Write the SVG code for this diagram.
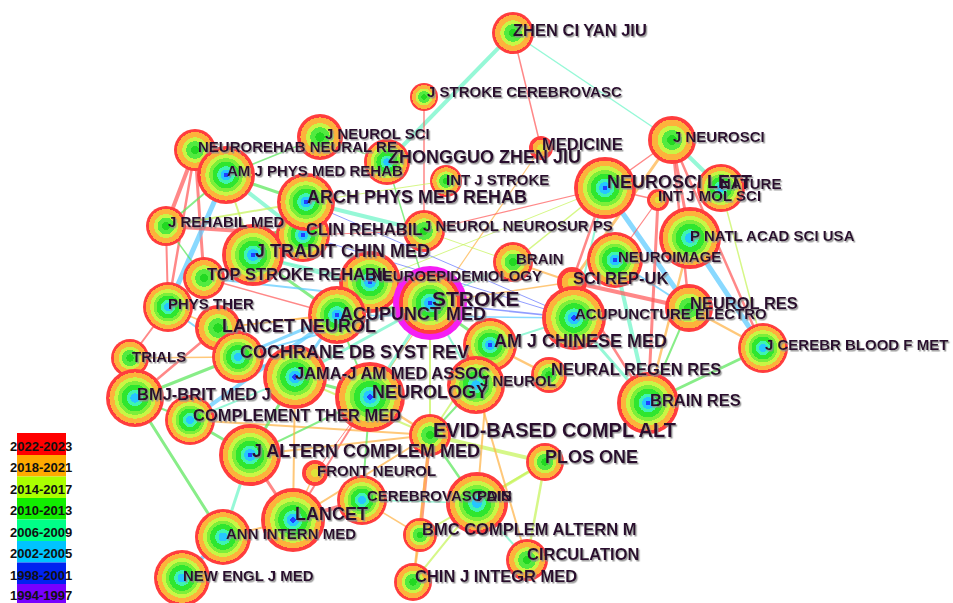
<svg xmlns="http://www.w3.org/2000/svg" width="953" height="603" viewBox="0 0 953 603">
<defs>
<radialGradient id="gBig">
<stop offset="0" stop-color="#1f3fff"/><stop offset="0.08" stop-color="#1f3fff"/>
<stop offset="0.08" stop-color="#26c6ff"/><stop offset="0.19" stop-color="#26c6ff"/>
<stop offset="0.19" stop-color="#3ef5b0"/><stop offset="0.3" stop-color="#3ef5b0"/>
<stop offset="0.3" stop-color="#2fe62f"/><stop offset="0.46" stop-color="#2fe62f"/>
<stop offset="0.46" stop-color="#7cef3a"/><stop offset="0.58" stop-color="#7cef3a"/>
<stop offset="0.58" stop-color="#c9f545"/><stop offset="0.71" stop-color="#c9f545"/>
<stop offset="0.71" stop-color="#fdb23c"/><stop offset="0.88" stop-color="#fdb23c"/>
<stop offset="0.88" stop-color="#ff3d3d"/><stop offset="1" stop-color="#ff3d3d"/>
</radialGradient>
<radialGradient id="gCy">
<stop offset="0" stop-color="#26c6ff"/><stop offset="0.16" stop-color="#26c6ff"/>
<stop offset="0.16" stop-color="#3ef5b0"/><stop offset="0.28" stop-color="#3ef5b0"/>
<stop offset="0.28" stop-color="#2fe62f"/><stop offset="0.46" stop-color="#2fe62f"/>
<stop offset="0.46" stop-color="#7cef3a"/><stop offset="0.58" stop-color="#7cef3a"/>
<stop offset="0.58" stop-color="#c9f545"/><stop offset="0.71" stop-color="#c9f545"/>
<stop offset="0.71" stop-color="#fdb23c"/><stop offset="0.88" stop-color="#fdb23c"/>
<stop offset="0.88" stop-color="#ff3d3d"/><stop offset="1" stop-color="#ff3d3d"/>
</radialGradient>
<radialGradient id="gMid">
<stop offset="0" stop-color="#22d822"/><stop offset="0.2" stop-color="#22d822"/>
<stop offset="0.2" stop-color="#52ea40"/><stop offset="0.42" stop-color="#52ea40"/>
<stop offset="0.42" stop-color="#c9f545"/><stop offset="0.6" stop-color="#c9f545"/>
<stop offset="0.6" stop-color="#fdb23c"/><stop offset="0.85" stop-color="#fdb23c"/>
<stop offset="0.85" stop-color="#ff3d3d"/><stop offset="1" stop-color="#ff3d3d"/>
</radialGradient>
<radialGradient id="gSmall">
<stop offset="0" stop-color="#dfe23a"/><stop offset="0.3" stop-color="#dfe23a"/>
<stop offset="0.3" stop-color="#fdb23c"/><stop offset="0.7" stop-color="#fdb23c"/>
<stop offset="0.7" stop-color="#ff3d3d"/><stop offset="1" stop-color="#ff3d3d"/>
</radialGradient>
<filter id="sh" x="-5%" y="-30%" width="110%" height="160%">
<feDropShadow dx="1.3" dy="1.5" stdDeviation="0.6" flood-color="#8a8a8a" flood-opacity="0.85"/>
</filter>
</defs>
<style>
.e{fill:none;stroke-linecap:round;stroke-opacity:0.72}
.r{stroke:#ff5a5a}.o{stroke:#ffb347}.y{stroke:#c6f45a}.g{stroke:#5ae65a}
.m{stroke:#6ef5c8}.c{stroke:#5ccbff}.b{stroke:#6677ff}.or{stroke:#ff7a45}
.lb{font-family:"Liberation Sans",Arial,Helvetica,sans-serif;font-weight:bold;fill:#2a0a2e;filter:url(#sh)}
.s15{font-size:15px}.s16{font-size:16.5px}.s18{font-size:18px}.s20{font-size:20px}.s21{font-size:21px}
.lg{font-family:"Liberation Sans",Arial,sans-serif;font-weight:bold;font-size:13px;fill:#111}
</style>
<rect width="953" height="603" fill="#ffffff"/>
<g id="connectors" class="e">
<line class="m" stroke-width="4" x1="513" y1="33" x2="387" y2="162"/>
<line class="r" stroke-width="1.5" x1="513" y1="33" x2="541" y2="148"/>
<line class="m" stroke-width="1.5" x1="513" y1="33" x2="672" y2="140"/>
<line class="r" stroke-width="1.5" x1="424" y1="97" x2="424" y2="231"/>
<line class="o" stroke-width="1.2" x1="541" y1="148" x2="370" y2="397"/>
<line class="r" stroke-width="1.5" x1="672" y1="140" x2="605" y2="188"/>
<line class="m" stroke-width="4" x1="672" y1="140" x2="721" y2="188"/>
<line class="r" stroke-width="3" x1="672" y1="140" x2="690" y2="238"/>
<line class="o" stroke-width="3" x1="672" y1="140" x2="572" y2="282"/>
<line class="r" stroke-width="2.5" x1="672" y1="140" x2="689" y2="308"/>
<line class="r" stroke-width="2.5" x1="672" y1="140" x2="763" y2="348"/>
<line class="c" stroke-width="5" x1="605" y1="188" x2="689" y2="308"/>
<line class="c" stroke-width="5" x1="690" y1="238" x2="763" y2="348"/>
<line class="y" stroke-width="1.5" x1="721" y1="188" x2="763" y2="348"/>
<line class="r" stroke-width="3" x1="658" y1="200" x2="648" y2="403"/>
<line class="m" stroke-width="4" x1="615" y1="260" x2="648" y2="403"/>
<line class="m" stroke-width="3" x1="574" y1="318" x2="648" y2="403"/>
<line class="o" stroke-width="2.5" x1="690" y1="238" x2="648" y2="403"/>
<line class="g" stroke-width="3" x1="763" y1="348" x2="648" y2="403"/>
<line class="o" stroke-width="2.5" x1="689" y1="308" x2="763" y2="348"/>
<line class="r" stroke-width="4" x1="572" y1="282" x2="689" y2="308"/>
<line class="r" stroke-width="2.5" x1="572" y1="282" x2="605" y2="188"/>
<line class="m" stroke-width="2" x1="605" y1="188" x2="574" y2="318"/>
<line class="r" stroke-width="1.5" x1="605" y1="188" x2="658" y2="200"/>
<line class="r" stroke-width="1.2" x1="605" y1="188" x2="424" y2="231"/>
<line class="y" stroke-width="1.5" x1="605" y1="188" x2="513" y2="262"/>
<line class="y" stroke-width="1" x1="605" y1="188" x2="370" y2="282"/>
<line class="r" stroke-width="1.2" x1="658" y1="200" x2="615" y2="260"/>
<line class="m" stroke-width="2" x1="615" y1="260" x2="572" y2="282"/>
<line class="c" stroke-width="2" x1="615" y1="260" x2="689" y2="308"/>
<line class="r" stroke-width="2.5" x1="572" y1="282" x2="648" y2="403"/>
<line class="g" stroke-width="2" x1="689" y1="308" x2="648" y2="403"/>
<line class="o" stroke-width="2" x1="513" y1="262" x2="572" y2="282"/>
<line class="o" stroke-width="1.5" x1="430" y1="303" x2="572" y2="282"/>
<line class="b" stroke-width="1.5" x1="430" y1="303" x2="574" y2="318"/>
<line class="b" stroke-width="1" x1="303" y1="235" x2="574" y2="318"/>
<line class="b" stroke-width="1" x1="306" y1="202" x2="574" y2="318"/>
<line class="c" stroke-width="1.5" x1="337" y1="315" x2="574" y2="318"/>
<line class="m" stroke-width="1.2" x1="430" y1="303" x2="513" y2="262"/>
<line class="g" stroke-width="1.5" x1="387" y1="162" x2="430" y2="303"/>
<line class="r" stroke-width="4" x1="195" y1="150" x2="166" y2="226"/>
<line class="r" stroke-width="3" x1="195" y1="150" x2="204" y2="278"/>
<line class="r" stroke-width="2.5" x1="195" y1="150" x2="168" y2="307"/>
<line class="c" stroke-width="5" x1="226" y1="175" x2="168" y2="307"/>
<line class="g" stroke-width="3" x1="226" y1="175" x2="306" y2="202"/>
<line class="m" stroke-width="4" x1="226" y1="175" x2="303" y2="235"/>
<line class="g" stroke-width="2" x1="226" y1="175" x2="166" y2="226"/>
<line class="y" stroke-width="2" x1="226" y1="175" x2="253" y2="255"/>
<line class="g" stroke-width="1.5" x1="226" y1="175" x2="320" y2="137"/>
<line class="r" stroke-width="4" x1="166" y1="226" x2="303" y2="235"/>
<line class="y" stroke-width="2" x1="166" y1="226" x2="306" y2="202"/>
<line class="g" stroke-width="1.5" x1="166" y1="226" x2="204" y2="278"/>
<line class="r" stroke-width="2" x1="166" y1="226" x2="168" y2="307"/>
<line class="g" stroke-width="3" x1="306" y1="202" x2="303" y2="235"/>
<line class="m" stroke-width="4" x1="306" y1="202" x2="424" y2="231"/>
<line class="g" stroke-width="2" x1="306" y1="202" x2="253" y2="255"/>
<line class="g" stroke-width="1" x1="320" y1="137" x2="387" y2="162"/>
<line class="y" stroke-width="1" x1="306" y1="202" x2="446" y2="181"/>
<line class="r" stroke-width="1" x1="303" y1="235" x2="424" y2="231"/>
<line class="y" stroke-width="1" x1="424" y1="231" x2="513" y2="262"/>
<line class="m" stroke-width="3" x1="253" y1="255" x2="430" y2="303"/>
<line class="g" stroke-width="3" x1="253" y1="255" x2="337" y2="315"/>
<line class="m" stroke-width="2" x1="253" y1="255" x2="370" y2="282"/>
<line class="g" stroke-width="1.5" x1="204" y1="278" x2="168" y2="307"/>
<line class="r" stroke-width="1.5" x1="204" y1="278" x2="337" y2="315"/>
<line class="c" stroke-width="2" x1="204" y1="278" x2="430" y2="303"/>
<line class="o" stroke-width="1.5" x1="168" y1="307" x2="218" y2="328"/>
<line class="r" stroke-width="2" x1="168" y1="307" x2="130" y2="358"/>
<line class="c" stroke-width="2" x1="168" y1="307" x2="238" y2="357"/>
<line class="o" stroke-width="1.5" x1="218" y1="328" x2="337" y2="315"/>
<line class="g" stroke-width="2" x1="218" y1="328" x2="238" y2="357"/>
<line class="o" stroke-width="1.5" x1="218" y1="328" x2="430" y2="303"/>
<line class="r" stroke-width="2.5" x1="135" y1="398" x2="218" y2="328"/>
<line class="o" stroke-width="1.5" x1="130" y1="358" x2="238" y2="357"/>
<line class="g" stroke-width="3" x1="135" y1="398" x2="238" y2="357"/>
<line class="c" stroke-width="4" x1="190" y1="420" x2="337" y2="315"/>
<line class="g" stroke-width="3" x1="135" y1="398" x2="223" y2="537"/>
<line class="g" stroke-width="2" x1="135" y1="398" x2="190" y2="420"/>
<line class="g" stroke-width="1.5" x1="135" y1="398" x2="130" y2="358"/>
<line class="g" stroke-width="3" x1="190" y1="420" x2="250" y2="455"/>
<line class="o" stroke-width="2" x1="190" y1="420" x2="430" y2="435"/>
<line class="m" stroke-width="2" x1="190" y1="420" x2="295" y2="377"/>
<line class="c" stroke-width="3" x1="238" y1="357" x2="295" y2="377"/>
<line class="c" stroke-width="3" x1="238" y1="357" x2="337" y2="315"/>
<line class="c" stroke-width="2" x1="238" y1="357" x2="430" y2="303"/>
<line class="g" stroke-width="3" x1="295" y1="377" x2="370" y2="397"/>
<line class="m" stroke-width="3" x1="295" y1="377" x2="430" y2="303"/>
<line class="g" stroke-width="3" x1="295" y1="377" x2="250" y2="455"/>
<line class="y" stroke-width="2" x1="295" y1="377" x2="430" y2="435"/>
<line class="m" stroke-width="3" x1="370" y1="397" x2="430" y2="303"/>
<line class="o" stroke-width="2.5" x1="370" y1="397" x2="430" y2="435"/>
<line class="r" stroke-width="2" x1="370" y1="397" x2="293" y2="520"/>
<line class="g" stroke-width="2" x1="370" y1="397" x2="250" y2="455"/>
<line class="g" stroke-width="3" x1="337" y1="315" x2="430" y2="303"/>
<line class="c" stroke-width="3" x1="337" y1="315" x2="295" y2="377"/>
<line class="g" stroke-width="2" x1="337" y1="315" x2="370" y2="397"/>
<line class="g" stroke-width="3" x1="430" y1="303" x2="490" y2="345"/>
<line class="m" stroke-width="2" x1="430" y1="303" x2="476" y2="385"/>
<line class="y" stroke-width="2" x1="430" y1="303" x2="430" y2="435"/>
<line class="y" stroke-width="2" x1="490" y1="345" x2="476" y2="385"/>
<line class="m" stroke-width="2" x1="490" y1="345" x2="574" y2="318"/>
<line class="y" stroke-width="2" x1="490" y1="345" x2="430" y2="435"/>
<line class="o" stroke-width="2.5" x1="490" y1="345" x2="549" y2="375"/>
<line class="g" stroke-width="2" x1="476" y1="385" x2="430" y2="435"/>
<line class="y" stroke-width="4" x1="430" y1="435" x2="545" y2="462"/>
<line class="g" stroke-width="2.5" x1="430" y1="435" x2="477" y2="503"/>
<line class="or" stroke-width="3.5" x1="430" y1="435" x2="420" y2="535"/>
<line class="o" stroke-width="2" x1="430" y1="435" x2="250" y2="455"/>
<line class="o" stroke-width="2" x1="430" y1="435" x2="413" y2="582"/>
<line class="y" stroke-width="2.5" x1="545" y1="462" x2="527" y2="560"/>
<line class="y" stroke-width="2" x1="545" y1="462" x2="420" y2="535"/>
<line class="y" stroke-width="3" x1="545" y1="462" x2="477" y2="503"/>
<line class="m" stroke-width="2" x1="477" y1="503" x2="527" y2="560"/>
<line class="y" stroke-width="2" x1="477" y1="503" x2="413" y2="582"/>
<line class="m" stroke-width="1.5" x1="477" y1="503" x2="362" y2="500"/>
<line class="o" stroke-width="2" x1="477" y1="503" x2="490" y2="345"/>
<line class="o" stroke-width="2" x1="527" y1="560" x2="476" y2="385"/>
<line class="r" stroke-width="4" x1="293" y1="520" x2="362" y2="500"/>
<line class="r" stroke-width="3" x1="293" y1="520" x2="250" y2="455"/>
<line class="o" stroke-width="2" x1="293" y1="520" x2="223" y2="537"/>
<line class="o" stroke-width="1.5" x1="293" y1="520" x2="315" y2="473"/>
<line class="o" stroke-width="2" x1="293" y1="520" x2="295" y2="377"/>
<line class="o" stroke-width="2" x1="293" y1="520" x2="430" y2="435"/>
<line class="r" stroke-width="1" x1="315" y1="473" x2="370" y2="397"/>
<line class="m" stroke-width="3" x1="250" y1="455" x2="223" y2="537"/>
<line class="c" stroke-width="4" x1="223" y1="537" x2="182" y2="578"/>
<line class="o" stroke-width="1.5" x1="362" y1="500" x2="420" y2="535"/>
<line class="g" stroke-width="2" x1="362" y1="500" x2="370" y2="397"/>
<line class="o" stroke-width="2" x1="420" y1="535" x2="413" y2="582"/>
</g>
<g id="nodes">
<g id="n-zhen-ci-yan-jiu"><circle cx="513" cy="33" r="21" fill="url(#gMid)"/></g>
<g id="n-j-stroke-cerebrovasc"><circle cx="424" cy="97" r="14" fill="url(#gMid)"/></g>
<g id="n-medicine"><circle cx="541" cy="148" r="12" fill="url(#gSmall)"/></g>
<g id="n-j-neurosci"><circle cx="672" cy="140" r="24" fill="url(#gMid)"/></g>
<g id="n-neurosci-lett"><circle cx="605" cy="188" r="31" fill="url(#gBig)"/></g>
<g id="n-nature"><circle cx="721" cy="188" r="24" fill="url(#gCy)"/></g>
<g id="n-int-j-mol-sci"><circle cx="658" cy="200" r="11" fill="url(#gSmall)"/></g>
<g id="n-int-j-stroke"><circle cx="446" cy="181" r="16" fill="url(#gMid)"/></g>
<g id="n-neurorehab-neural-re"><circle cx="195" cy="150" r="21" fill="url(#gMid)"/></g>
<g id="n-am-j-phys-med-rehab"><circle cx="226" cy="175" r="29" fill="url(#gBig)"/></g>
<g id="n-j-neurol-sci"><circle cx="320" cy="137" r="23" fill="url(#gMid)"/></g>
<g id="n-zhongguo-zhen-jiu"><circle cx="387" cy="162" r="23" fill="url(#gCy)"/></g>
<g id="n-clin-rehabil"><circle cx="303" cy="235" r="27" fill="url(#gBig)"/></g>
<g id="n-arch-phys-med-rehab"><circle cx="306" cy="202" r="29" fill="url(#gBig)"/></g>
<g id="n-j-rehabil-med"><circle cx="166" cy="226" r="20" fill="url(#gMid)"/></g>
<g id="n-j-neurol-neurosur-ps"><circle cx="424" cy="231" r="21" fill="url(#gMid)"/></g>
<g id="n-j-tradit-chin-med"><circle cx="253" cy="255" r="31" fill="url(#gBig)"/></g>
<g id="n-top-stroke-rehabil"><circle cx="204" cy="278" r="21" fill="url(#gMid)"/></g>
<g id="n-neuroepidemiology"><circle cx="370" cy="282" r="31" fill="url(#gBig)"/></g>
<g id="n-brain"><circle cx="513" cy="262" r="20" fill="url(#gMid)"/></g>
<g id="n-neuroimage"><circle cx="615" cy="260" r="28" fill="url(#gBig)"/></g>
<g id="n-p-natl-acad-sci-usa"><circle cx="690" cy="238" r="31" fill="url(#gCy)"/></g>
<g id="n-sci-rep-uk"><circle cx="572" cy="282" r="15" fill="url(#gSmall)"/></g>
<g id="n-stroke"><circle cx="430" cy="303" r="37" fill="#f51ef5"/><circle cx="430" cy="303" r="31" fill="url(#gBig)"/></g>
<g id="n-phys-ther"><circle cx="168" cy="307" r="25" fill="url(#gCy)"/></g>
<g id="n-acupunct-med"><circle cx="337" cy="315" r="29" fill="url(#gBig)"/></g>
<g id="n-acupuncture-electro"><circle cx="574" cy="318" r="32" fill="url(#gBig)"/></g>
<g id="n-neurol-res"><circle cx="689" cy="308" r="24" fill="url(#gMid)"/></g>
<g id="n-lancet-neurol"><circle cx="218" cy="328" r="23" fill="url(#gMid)"/></g>
<g id="n-j-cerebr-blood-f-met"><circle cx="763" cy="348" r="25" fill="url(#gCy)"/></g>
<g id="n-am-j-chinese-med"><circle cx="490" cy="345" r="27" fill="url(#gBig)"/></g>
<g id="n-cochrane-db-syst-rev"><circle cx="238" cy="357" r="26" fill="url(#gCy)"/></g>
<g id="n-trials"><circle cx="130" cy="358" r="19" fill="url(#gMid)"/></g>
<g id="n-jama"><circle cx="295" cy="377" r="32" fill="url(#gBig)"/></g>
<g id="n-neural-regen-res"><circle cx="549" cy="375" r="18" fill="url(#gMid)"/></g>
<g id="n-j-neurol"><circle cx="476" cy="385" r="29" fill="url(#gCy)"/></g>
<g id="n-neurology"><circle cx="370" cy="397" r="35" fill="url(#gBig)"/></g>
<g id="n-bmj-brit-med-j"><circle cx="135" cy="398" r="29" fill="url(#gCy)"/></g>
<g id="n-brain-res"><circle cx="648" cy="403" r="31" fill="url(#gBig)"/></g>
<g id="n-complement-ther-med"><circle cx="190" cy="420" r="25" fill="url(#gCy)"/></g>
<g id="n-evid-based-compl-alt"><circle cx="430" cy="435" r="21" fill="url(#gMid)"/></g>
<g id="n-j-altern-complem-med"><circle cx="250" cy="455" r="31" fill="url(#gBig)"/></g>
<g id="n-plos-one"><circle cx="545" cy="462" r="19" fill="url(#gMid)"/></g>
<g id="n-front-neurol"><circle cx="315" cy="473" r="13" fill="url(#gSmall)"/></g>
<g id="n-cerebrovasc-dis"><circle cx="362" cy="500" r="25" fill="url(#gCy)"/></g>
<g id="n-pain"><circle cx="477" cy="503" r="31" fill="url(#gCy)"/></g>
<g id="n-lancet"><circle cx="293" cy="520" r="32" fill="url(#gBig)"/></g>
<g id="n-bmc-complem-altern-m"><circle cx="420" cy="535" r="17" fill="url(#gMid)"/></g>
<g id="n-ann-intern-med"><circle cx="223" cy="537" r="28" fill="url(#gCy)"/></g>
<g id="n-circulation"><circle cx="527" cy="560" r="21" fill="url(#gMid)"/></g>
<g id="n-new-engl-j-med"><circle cx="182" cy="578" r="28" fill="url(#gCy)"/></g>
<g id="n-chin-j-integr-med"><circle cx="413" cy="582" r="19" fill="url(#gMid)"/></g>
</g>
<g id="labels" class="lb">
<text class="s16" x="513" y="36">ZHEN CI YAN JIU</text>
<text class="s15" x="427" y="97">J STROKE CEREBROVASC</text>
<text class="s16" x="542" y="150">MEDICINE</text>
<text class="s15" x="673" y="141.5">J NEUROSCI</text>
<text class="s15" x="325" y="139">J NEUROL SCI</text>
<text class="s15" x="198" y="152">NEUROREHAB NEURAL RE.</text>
<text class="s18" x="388" y="163">ZHONGGUO ZHEN JIU</text>
<text class="s15" x="227" y="175.5">AM J PHYS MED REHAB</text>
<text class="s15" x="446" y="185">INT J STROKE</text>
<text class="s18" x="607" y="188">NEUROSCI LETT</text>
<text class="s15" x="720" y="189">NATURE</text>
<text class="s15" x="658" y="201">INT J MOL SCI</text>
<text class="s18" x="307" y="202.5">ARCH PHYS MED REHAB</text>
<text class="s15" x="168" y="227">J REHABIL MED</text>
<text class="s15" x="423" y="230.5">J NEUROL NEUROSUR PS</text>
<text class="s16" x="306" y="235">CLIN REHABIL</text>
<text class="s15" x="690" y="240.5">P NATL ACAD SCI USA</text>
<text class="s18" x="255" y="257">J TRADIT CHIN MED</text>
<text class="s15" x="618" y="261.5">NEUROIMAGE</text>
<text class="s15" x="516" y="264">BRAIN</text>
<text class="s16" x="207" y="280">TOP STROKE REHABIL</text>
<text class="s15" x="372" y="280.5">NEUROEPIDEMIOLOGY</text>
<text class="s16" x="573" y="283.5">SCI REP-UK</text>
<text class="s21" x="432" y="305.5">STROKE</text>
<text class="s15" x="168" y="308.5">PHYS THER</text>
<text class="s16" x="690" y="309">NEUROL RES</text>
<text class="s15" x="575" y="319">ACUPUNCTURE ELECTRO</text>
<text class="s18" x="340" y="319.5">ACUPUNCT MED</text>
<text class="s18" x="222" y="331.5">LANCET NEUROL</text>
<text class="s18" x="494" y="346.5">AM J CHINESE MED</text>
<text class="s15" x="765" y="349.5">J CEREBR BLOOD F MET</text>
<text class="s18" x="240" y="358">COCHRANE DB SYST REV</text>
<text class="s15" x="132" y="362">TRIALS</text>
<text class="s16" x="551" y="375">NEURAL REGEN RES</text>
<text class="s16" x="295" y="379">JAMA-J AM MED ASSOC</text>
<text class="s15" x="480" y="385.5">J NEUROL</text>
<text class="s18" x="372" y="398">NEUROLOGY</text>
<text class="s16" x="137" y="400">BMJ-BRIT MED J</text>
<text class="s16" x="650" y="406">BRAIN RES</text>
<text class="s16" x="193" y="421">COMPLEMENT THER MED</text>
<text class="s20" x="433" y="437">EVID-BASED COMPL ALT</text>
<text class="s18" x="252" y="456.5">J ALTERN COMPLEM MED</text>
<text class="s18" x="545" y="463">PLOS ONE</text>
<text class="s15" x="317" y="475.5">FRONT NEUROL</text>
<text class="s15" x="367" y="500.5">CEREBROVASC DIS</text>
<text class="s15" x="477" y="500.5">PAIN</text>
<text class="s18" x="295" y="520">LANCET</text>
<text class="s16" x="422" y="535">BMC COMPLEM ALTERN M</text>
<text class="s15" x="226" y="539">ANN INTERN MED</text>
<text class="s16" x="527" y="560">CIRCULATION</text>
<text class="s15" x="183" y="580.5">NEW ENGL J MED</text>
<text class="s16" x="415" y="582">CHIN J INTEGR MED</text>
</g>
<g id="legend">
<rect x="17" y="433" width="49" height="22" fill="#ff0000"/>
<rect x="17" y="455" width="49" height="21.5" fill="#ffaa00"/>
<rect x="17" y="476.5" width="49" height="21.5" fill="#aaff00"/>
<rect x="17" y="498" width="49" height="21.5" fill="#11ee00"/>
<rect x="17" y="519.5" width="49" height="21.5" fill="#00ff88"/>
<rect x="17" y="541" width="49" height="21.5" fill="#00c4ff"/>
<rect x="17" y="562.5" width="49" height="21.5" fill="#0022f0"/>
<rect x="17" y="584" width="49" height="19" fill="#7700ff"/>
<text class="lg" x="10" y="450.5">2022-2023</text>
<text class="lg" x="10" y="472">2018-2021</text>
<text class="lg" x="10" y="493.5">2014-2017</text>
<text class="lg" x="10" y="515">2010-2013</text>
<text class="lg" x="10" y="536.5">2006-2009</text>
<text class="lg" x="10" y="558">2002-2005</text>
<text class="lg" x="10" y="579.5">1998-2001</text>
<text class="lg" x="10" y="600">1994-1997</text>
</g>
</svg>
